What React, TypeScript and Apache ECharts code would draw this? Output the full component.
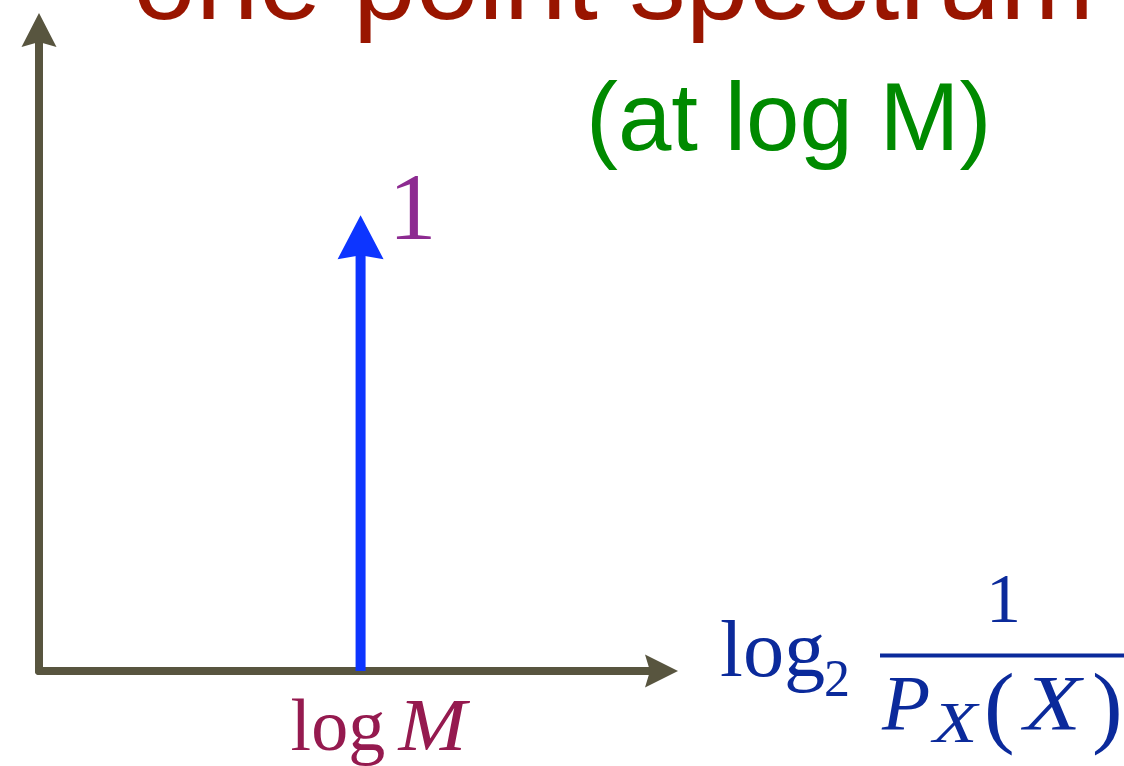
import { useEffect, useRef } from "react";
import * as echarts from "echarts";

// Axis extents (abstract units, no tick labels are shown)
const X_MAX = 9.5;
const Y_MAX = 1.38;

// The single spectral line: all probability mass sits at log M
const LOG_M = 5;
const PEAK = 1;
const spectrum: number[][] = [[LOG_M, PEAK]];

const TITLE = "one point spectrum";
const SUBTITLE = "(at log M)";

const AXIS_COLOR = "#58553f";
const SPIKE_COLOR = "#0d35ff";
const PEAK_LABEL_COLOR = "#8d2b91";
const LOGM_COLOR = "#951a4f";
const MATH_COLOR = "#0b2a9b";
const TITLE_COLOR = "#991500";
const SUB_COLOR = "#008a00";

const SANS = "'Liberation Sans', Arial, Helvetica, sans-serif";
const SERIF = "'Liberation Serif', 'Times New Roman', serif";

function mathText(
  text: string,
  x: number,
  y: number,
  size: number,
  italic = false,
  align = "left",
  scaleX = 1
) {
  return {
    type: "text",
    x,
    y,
    scaleX,
    silent: true,
    style: {
      text,
      fill: MATH_COLOR,
      fontFamily: SERIF,
      fontSize: size,
      fontStyle: italic ? "italic" : "normal",
      align,
      verticalAlign: "middle",
    },
  };
}

const hiddenAxisParts = {
  axisTick: { show: false },
  axisLabel: { show: false },
  splitLine: { show: false },
};

export default function App() {
  const ref = useRef<HTMLDivElement>(null);

  useEffect(() => {
    if (!ref.current) return;
    const chart = echarts.init(ref.current, undefined, { renderer: "svg" });

    const option: any = {
      animation: false,
      backgroundColor: "#ffffff",
      grid: { left: 39, top: 42, right: 474, bottom: 95, containLabel: false },
      xAxis: {
        type: "value",
        min: 0,
        max: X_MAX,
        axisLine: { show: true, onZero: false, lineStyle: { color: AXIS_COLOR, width: 8 } },
        ...hiddenAxisParts,
      },
      yAxis: {
        type: "value",
        min: 0,
        max: Y_MAX,
        axisLine: { show: true, onZero: false, lineStyle: { color: AXIS_COLOR, width: 8 } },
        ...hiddenAxisParts,
      },
      series: [
        // arrow heads at the far ends of both axes
        {
          type: "custom",
          z: 5,
          clip: false,
          silent: true,
          data: [[X_MAX, Y_MAX]],
          renderItem: (_params: any, api: any) => {
            const xEnd = api.coord([api.value(0), 0]);
            const yEnd = api.coord([0, api.value(1)]);
            return {
              type: "group",
              children: [
                {
                  type: "polygon",
                  shape: {
                    points: [
                      [xEnd[0] + 28, xEnd[1]],
                      [xEnd[0] - 5, xEnd[1] + 16.5],
                      [xEnd[0], xEnd[1]],
                      [xEnd[0] - 5, xEnd[1] - 16.5],
                    ],
                  },
                  style: { fill: AXIS_COLOR },
                },
                {
                  type: "polygon",
                  shape: {
                    points: [
                      [yEnd[0], yEnd[1] - 29],
                      [yEnd[0] + 17.5, yEnd[1] + 5],
                      [yEnd[0], yEnd[1]],
                      [yEnd[0] - 17.5, yEnd[1] + 5],
                    ],
                  },
                  style: { fill: AXIS_COLOR },
                },
              ],
            };
          },
        },
        // the spike itself, its value label and its position label
        {
          type: "custom",
          z: 10,
          clip: false,
          data: spectrum,
          renderItem: (_params: any, api: any) => {
            const x = api.value(0);
            const y = api.value(1);
            const base = api.coord([x, 0]);
            const tip = api.coord([x, y]);
            const headLen = 44;
            const headHalf = 23;
            const notch = 40;
            const stemTop = tip[1] + notch - 2;
            return {
              type: "group",
              children: [
                {
                  type: "rect",
                  shape: { x: base[0] - 5, y: stemTop, width: 10, height: base[1] - stemTop },
                  style: { fill: SPIKE_COLOR },
                },
                {
                  type: "polygon",
                  shape: {
                    points: [
                      [tip[0], tip[1]],
                      [tip[0] + headHalf, tip[1] + headLen],
                      [tip[0], tip[1] + notch],
                      [tip[0] - headHalf, tip[1] + headLen],
                    ],
                  },
                  style: { fill: SPIKE_COLOR },
                },
                {
                  type: "text",
                  x: tip[0] + 52,
                  y: tip[1] - 9,
                  style: {
                    text: String(y),
                    fill: PEAK_LABEL_COLOR,
                    fontFamily: SERIF,
                    fontSize: 96,
                    align: "center",
                    verticalAlign: "middle",
                  },
                },
                {
                  type: "text",
                  x: base[0] - 70,
                  y: base[1] + 54,
                  style: {
                    text: "log",
                    fill: LOGM_COLOR,
                    fontFamily: SERIF,
                    fontSize: 74,
                    align: "left",
                    verticalAlign: "middle",
                  },
                },
                {
                  type: "text",
                  x: base[0] + 38,
                  y: base[1] + 54,
                  scaleX: 1.1,
                  style: {
                    text: "M",
                    fill: LOGM_COLOR,
                    fontFamily: SERIF,
                    fontSize: 74,
                    fontStyle: "italic",
                    align: "left",
                    verticalAlign: "middle",
                  },
                },
              ],
            };
          },
        },
      ],
      graphic: [
        {
          type: "text",
          x: 133,
          y: -20,
          silent: true,
          style: {
            text: TITLE,
            fill: TITLE_COLOR,
            fontFamily: SANS,
            fontSize: 113,
            align: "left",
            verticalAlign: "middle",
          },
        },
        {
          type: "text",
          x: 586,
          y: 116.7,
          silent: true,
          style: {
            text: SUBTITLE,
            fill: SUB_COLOR,
            fontFamily: SANS,
            fontSize: 96,
            align: "left",
            verticalAlign: "middle",
          },
        },
        // x-axis name: log2 1 / P_X(X)
        mathText("log", 720, 649.3, 80, false, "left", 1.03),
        mathText("2", 824, 678, 52),
        {
          type: "rect",
          silent: true,
          shape: { x: 880, y: 653.5, width: 244, height: 4 },
          style: { fill: MATH_COLOR },
        },
        mathText("1", 1003.5, 598.4, 70, false, "center"),
        mathText("P", 882, 702.3, 79, true),
        mathText("X", 933, 722, 58, true, "left", 1.25),
        mathText("(", 984, 704.7, 92),
        mathText("X", 1024, 702.3, 79, true, "left", 1.18),
        mathText(")", 1092, 704.7, 92),
      ],
    };

    chart.setOption(option);
    return () => chart.dispose();
  }, []);

  return (
    <div
      ref={ref}
      style={{ position: "fixed", left: 0, top: 0, width: 1124, height: 766, background: "#fff" }}
    />
  );
}
